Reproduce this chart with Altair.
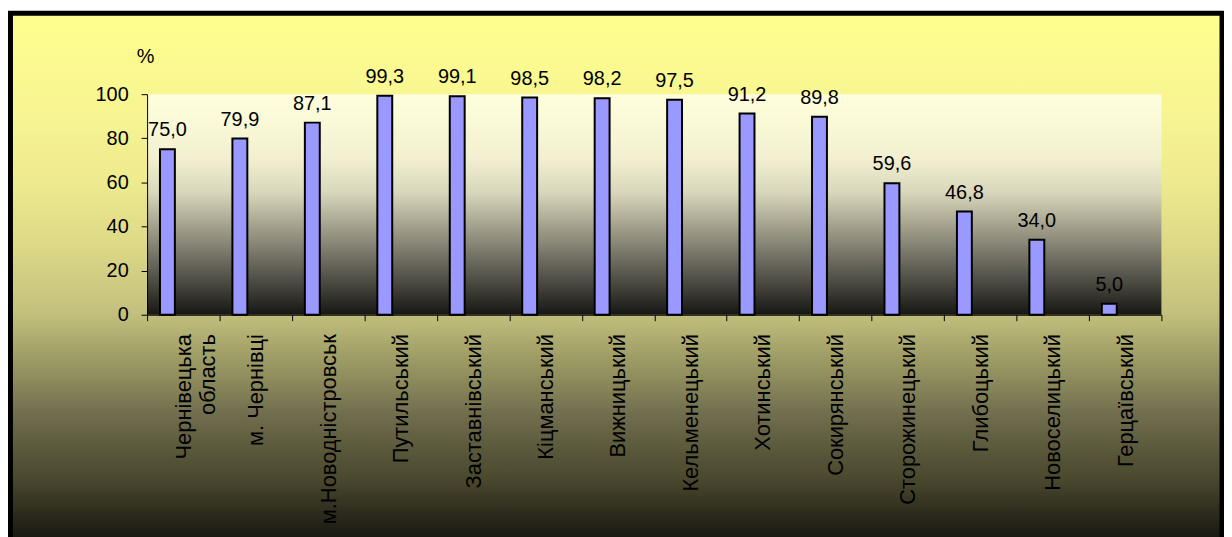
import altair as alt
import pandas as pd

categories = ["Чернівецька\nобласть", "м. Чернівці", "м.Новодністровськ", "Путильський",
              "Заставнівський", "Кіцманський", "Вижницький", "Кельменецький", "Хотинський",
              "Сокирянський", "Сторожинецький", "Глибоцький", "Новоселицький", "Герцаївський"]
values = [75.0, 79.9, 87.1, 99.3, 99.1, 98.5, 98.2, 97.5, 91.2, 89.8, 59.6, 46.8, 34.0, 5.0]
y_ticks = [0, 20, 40, 60, 80, 100]
y_title = "%"

df = pd.DataFrame({"cat": categories, "v": values})

W, H = 1021, 222
FONT = "Arial, Liberation Sans, sans-serif"

outer_grad = alt.LinearGradient(
    gradient="linear", x1=0, x2=0, y1=0, y2=1,
    stops=[
        alt.GradientStop(offset=0.0, color="#FFFF8E"),
        alt.GradientStop(offset=0.19, color="#F7F492"),
        alt.GradientStop(offset=0.31, color="#EEEA8E"),
        alt.GradientStop(offset=0.43, color="#DCD886"),
        alt.GradientStop(offset=0.55, color="#C3C07E"),
        alt.GradientStop(offset=0.61, color="#A8A66C"),
        alt.GradientStop(offset=0.67, color="#8E8C5C"),
        alt.GradientStop(offset=0.73, color="#737050"),
        alt.GradientStop(offset=0.79, color="#5E5C3E"),
        alt.GradientStop(offset=0.86, color="#48462C"),
        alt.GradientStop(offset=0.92, color="#2C2A1C"),
        alt.GradientStop(offset=0.96, color="#1A1A12"),
        alt.GradientStop(offset=1.0, color="#101008"),
    ],
)

plot_grad = alt.LinearGradient(
    gradient="linear", x1=0, x2=0, y1=0, y2=1,
    stops=[
        alt.GradientStop(offset=0.0, color="#FFFFDD"),
        alt.GradientStop(offset=0.29, color="#F2F0D0"),
        alt.GradientStop(offset=0.44, color="#DAD8BC"),
        alt.GradientStop(offset=0.585, color="#A8A690"),
        alt.GradientStop(offset=0.74, color="#727064"),
        alt.GradientStop(offset=0.89, color="#3E3E36"),
        alt.GradientStop(offset=1.0, color="#161614"),
    ],
)

one = alt.Data(values=[{}])

frame = alt.Chart(one).mark_rect(fill=outer_grad, stroke="black", strokeWidth=5).encode(
    x=alt.value(-137.5), x2=alt.value(1082), y=alt.value(-81.5), y2=alt.value(467)
)

plot_bg = alt.Chart(one).mark_rect(fill=plot_grad).encode(
    x=alt.value(0), x2=alt.value(W), y=alt.value(0), y2=alt.value(H)
)

label_expr = "indexof(datum.label, '\\n') >= 0 ? split(datum.label, '\\n') : datum.label"

x_enc = alt.X(
    "cat:N", sort=categories, title=None,
    scale=alt.Scale(paddingInner=0, paddingOuter=0),
    axis=alt.Axis(
        labelAngle=-90, labelFontSize=22, labelFont=FONT, labelColor="black",
        labelLineHeight=24.5, labelPadding=13, tickSize=6,
        tickBand="extent", tickColor="black", domainColor="black", zindex=1,
        labelLimit=300, labelExpr=label_expr,
    ),
)
y_enc = alt.Y(
    "v:Q",
    scale=alt.Scale(domain=[0, 100], nice=False),
    axis=alt.Axis(
        values=y_ticks, title=y_title, titleAngle=0, titleX=-2, titleY=-32,
        titleAlign="center", titleBaseline="alphabetic", titleFontSize=20,
        titleFontWeight="normal", titleFont=FONT, titleColor="black",
        labelFontSize=20, labelFont=FONT, labelColor="black", labelPadding=13,
        tickSize=6, tickColor="black", domainColor="black", grid=False, zindex=1,
    ),
)

bars = alt.Chart(df).mark_bar(
    fill="#9999FF", stroke="black", strokeWidth=2, width=15, xOffset=-16
).encode(x=x_enc, y=y_enc)

labels = alt.Chart(df).transform_calculate(
    lab="replace(format(datum.v, '.1f'), '.', ',')"
).mark_text(
    font=FONT, fontSize=20, color="black", baseline="alphabetic", dy=-13, dx=-16
).encode(x=x_enc, y=y_enc, text="lab:N")

chart = alt.layer(frame, plot_bg, bars, labels).properties(
    width=W, height=H,
    padding={"left": 140, "top": 85, "right": 63, "bottom": 222},
    autosize=alt.AutoSizeParams(type="none"),
).configure_view(stroke=None)

chart.save("out.html", embed_options={"renderer": "svg", "actions": False})
